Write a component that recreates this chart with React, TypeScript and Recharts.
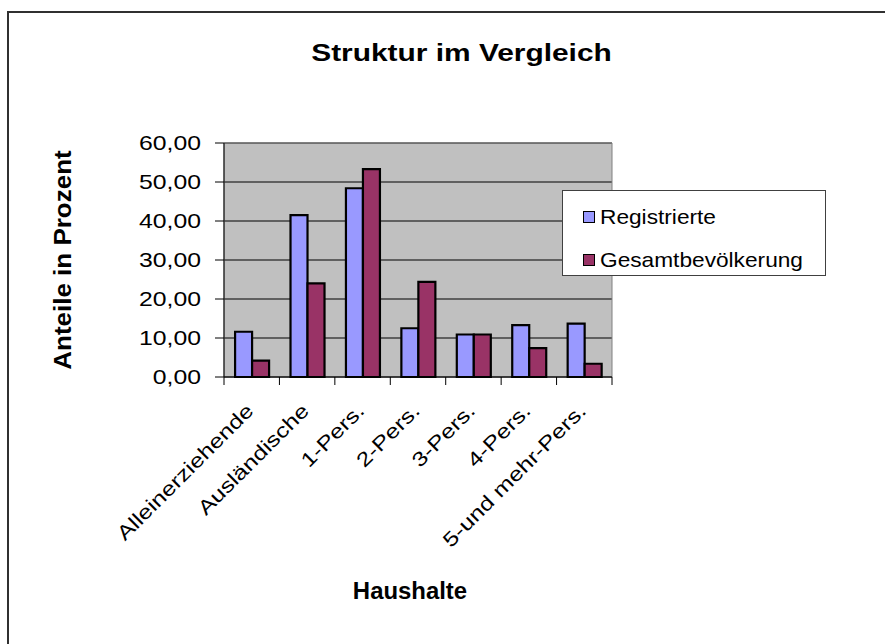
import { BarChart, Bar, XAxis, YAxis, CartesianGrid, Legend, ReferenceArea } from 'recharts'

// Werte (Anteile in Prozent)
const categories = ['Alleinerziehende', 'Ausländische', '1-Pers.', '2-Pers.', '3-Pers.', '4-Pers.', '5-und mehr-Pers.']
const registrierte = [11.6, 41.5, 48.4, 12.5, 10.9, 13.3, 13.7]
const gesamtbevoelkerung = [4.2, 24.0, 53.3, 24.4, 10.9, 7.4, 3.4]
const yTicks = [0, 10, 20, 30, 40, 50, 60]
const seriesNames = ['Registrierte', 'Gesamtbevölkerung']
const seriesColors = ['#9999ff', '#993366']

const data = categories.map((name, i) => ({
  name,
  registrierte: registrierte[i],
  gesamt: gesamtbevoelkerung[i],
}))

const FONT = '"Liberation Sans", Arial, sans-serif'

function YTick({ x, y, payload }: any) {
  const label = Number(payload.value).toFixed(2).replace('.', ',')
  return (
    <text transform={`translate(${x},${y}) scale(1.24,1)`} textAnchor="end" dy="0.36em"
      fontSize={20} fontFamily={FONT} fill="#000">
      {label}
    </text>
  )
}

function XTick({ x, y, payload, index }: any) {
  // Excel setzt die Teilstriche zwischen die Kategorien
  const half = payload.offset || 388 / 14
  const last = index === categories.length - 1
  return (
    <g>
      <line x1={x - half} x2={x - half} y1={y} y2={y + 8} stroke="#000" />
      {last && <line x1={x + half} x2={x + half} y1={y} y2={y + 8} stroke="#000" />}
      <text transform={`translate(${x + 3},${y + 35}) rotate(-45) scale(1.24,1)`} textAnchor="end"
        fontSize={20} fontFamily={FONT} fill="#000">
        {payload.value}
      </text>
    </g>
  )
}

// eigene Legende, feste Reihenfolge wie im Original
function renderLegend() {
  return (
    <div style={{ width: '100%', height: '100%', boxSizing: 'border-box', border: '1px solid #404040',
      background: '#fff', paddingTop: 9, paddingLeft: 20, fontFamily: FONT }}>
      {seriesNames.map((name, i) => (
        <div key={name} style={{ display: 'flex', alignItems: 'center', height: 34, marginBottom: 9 }}>
          <span style={{ width: 10, height: 10, border: '1.5px solid #000', background: seriesColors[i],
            display: 'inline-block', marginRight: 5 }} />
          <span style={{ fontSize: 21, transform: 'scaleX(1.08)', transformOrigin: 'left center',
            whiteSpace: 'nowrap', color: '#000' }}>
            {name}
          </span>
        </div>
      ))}
    </div>
  )
}

export default function App() {
  return (
    <div style={{ position: 'absolute', left: 0, top: 0, width: 885, height: 644, overflow: 'hidden', background: '#fff' }}>
      <div style={{ position: 'absolute', left: 7, top: 11, width: 900, height: 700,
        borderLeft: '2px solid #303030', borderTop: '2px solid #303030' }} />
      <BarChart width={885} height={644} data={data} barCategoryGap="20%" barGap={0}
        margin={{ top: 143, right: 273, left: 124, bottom: 147 }} style={{ position: 'absolute', left: 0, top: 0 }}>
        <CartesianGrid vertical={false} stroke="#000" fill="#c0c0c0" fillOpacity={1} />
        <ReferenceArea y1={0} y2={60} fill="none" stroke="#808080" strokeWidth={1} ifOverflow="visible" />
        <XAxis dataKey="name" interval={0} height={120} tickSize={0} tickMargin={0} tickLine={false}
          axisLine={{ stroke: '#000' }} tick={<XTick />} />
        <YAxis domain={[0, 60]} ticks={yTicks} width={100} tickSize={9} tickMargin={14}
          tickLine={{ stroke: '#000' }} axisLine={{ stroke: '#000' }} tick={<YTick />} />
        <Legend layout="vertical" align="center" verticalAlign="middle" content={renderLegend}
          wrapperStyle={{ left: 562, top: 190, width: 264, height: 86 }} />
        <Bar dataKey="registrierte" name={seriesNames[0]} fill={seriesColors[0]} stroke="#000" strokeWidth={2.2}
          isAnimationActive={false} />
        <Bar dataKey="gesamt" name={seriesNames[1]} fill={seriesColors[1]} stroke="#000" strokeWidth={2.2}
          isAnimationActive={false} />
      </BarChart>
      <svg width={885} height={644} style={{ position: 'absolute', left: 0, top: 0, pointerEvents: 'none' }}>
        <text transform="translate(461.5,61) scale(1.3,1)" textAnchor="middle" fontSize={23}
          fontWeight="bold" fontFamily={FONT} fill="#000">
          Struktur im Vergleich
        </text>
        <text transform="translate(71,260) rotate(-90) scale(1.13,1)" textAnchor="middle" fontSize={23}
          fontWeight="bold" fontFamily={FONT} fill="#000">
          Anteile in Prozent
        </text>
        <text transform="translate(410,599) scale(1.04,1)" textAnchor="middle" fontSize={23}
          fontWeight="bold" fontFamily={FONT} fill="#000">
          Haushalte
        </text>
      </svg>
    </div>
  )
}
